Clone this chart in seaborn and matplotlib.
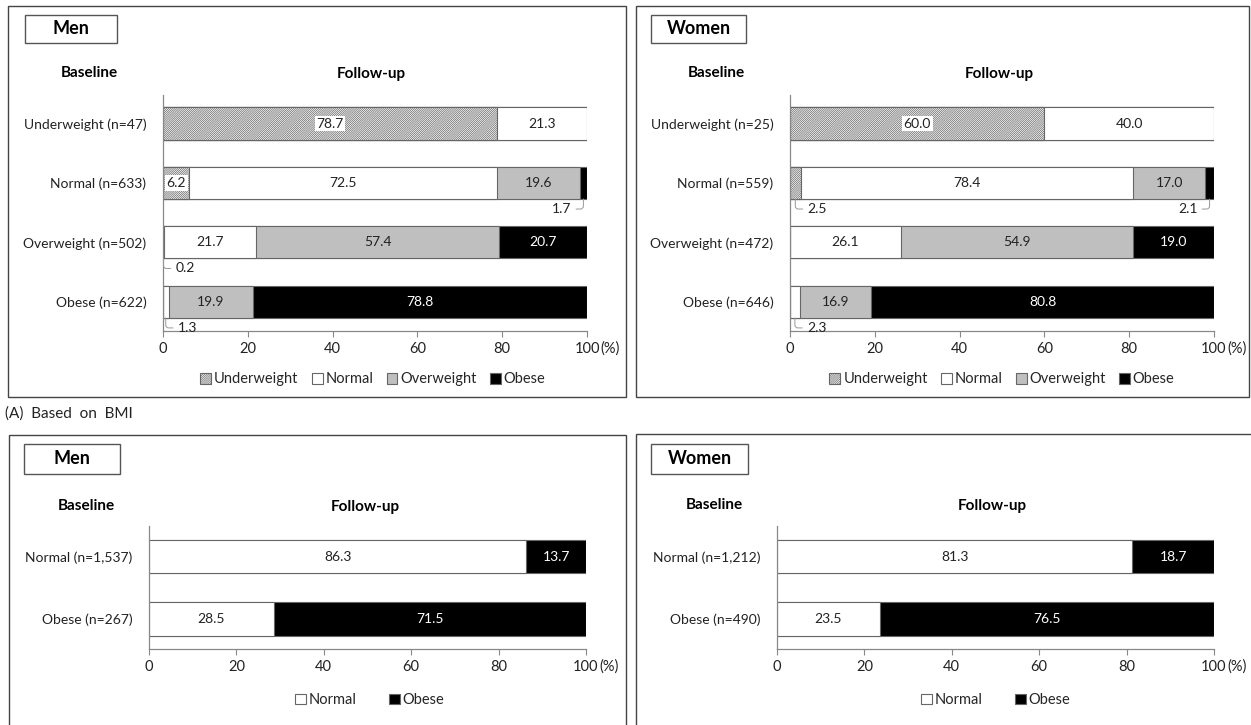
import matplotlib
matplotlib.use("Agg")
import matplotlib.pyplot as plt
from matplotlib.patches import Rectangle, Patch
import pandas as pd
import seaborn as sns

sns.set_theme(style="white")
plt.rcParams['font.family'] = ['Lato', 'DejaVu Sans']
plt.rcParams['hatch.linewidth'] = 0.5

W, H = 1251, 725

# ---- data ----
bmi_classes = ["Underweight", "Normal", "Overweight", "Obese"]
wc_classes = ["Normal", "Obese"]

men_bmi_rows = ["Underweight (n=47)", "Normal (n=633)", "Overweight (n=502)", "Obese (n=622)"]
men_bmi_underweight = [78.7, 6.2, 0.2, 0.0]
men_bmi_normal = [21.3, 72.5, 21.7, 1.3]
men_bmi_overweight = [0.0, 19.6, 57.4, 19.9]
men_bmi_obese = [0.0, 1.7, 20.7, 78.8]

women_bmi_rows = ["Underweight (n=25)", "Normal (n=559)", "Overweight (n=472)", "Obese (n=646)"]
women_bmi_underweight = [60.0, 2.5, 0.0, 0.0]
women_bmi_normal = [40.0, 78.4, 26.1, 2.3]
women_bmi_overweight = [0.0, 17.0, 54.9, 16.9]
women_bmi_obese = [0.0, 2.1, 19.0, 80.8]

men_wc_rows = ["Normal (n=1,537)", "Obese (n=267)"]
men_wc_normal = [86.3, 28.5]
men_wc_obese = [13.7, 71.5]

women_wc_rows = ["Normal (n=1,212)", "Obese (n=490)"]
women_wc_normal = [81.3, 23.5]
women_wc_obese = [18.7, 76.5]

x_ticks = [0, 20, 40, 60, 80, 100]

# ---- style ----
FILL = {"Underweight": "white", "Normal": "white", "Overweight": "#bfbfbf", "Obese": "black"}
EDGE = "#666666"
HATCH = "/" * 16
TXT = "#222222"

fig = plt.figure(figsize=(W / 100, H / 100), dpi=100)


def fx(x):
    return x / W


def fy(y):
    return 1 - y / H


def frame(x0, y0, x1, y1, lw=1.0, color="#444444"):
    fig.patches.append(Rectangle((fx(x0), fy(y1)), fx(x1) - fx(x0), fy(y0) - fy(y1),
                                 transform=fig.transFigure, fill=False,
                                 edgecolor=color, linewidth=lw))


def draw_panel(box, rows, series, classes, ylim, bw, legend_y, legend_x):
    x0, y0, x1, y1 = box
    ax = fig.add_axes([fx(x0), fy(y1), fx(x1) - fx(x0), fy(y0) - fy(y1)])
    df = pd.DataFrame(dict(zip(classes, series)), index=rows)
    cum = df.cumsum(axis=1)
    # stacked bars: draw cumulative totals from the right-most class back to the first
    for cls in reversed(classes):
        n_before = len(ax.patches)
        sns.barplot(x=cum[cls].values, y=rows, order=rows, orient="h",
                    color=FILL[cls], edgecolor=EDGE, linewidth=0.8,
                    width=bw, saturation=1, errorbar=None, ax=ax)
        if cls == "Underweight":
            for p in ax.patches[n_before:]:
                p.set_hatch(HATCH)

    for i, r in enumerate(rows):
        left = 0.0
        for cls in classes:
            v = df.loc[r, cls]
            c = left + v / 2
            if v >= 5:
                col = "white" if cls == "Obese" else TXT
                bbox = dict(facecolor="white", edgecolor="none", pad=1.2) if cls == "Underweight" else None
                ax.text(c, i, f"{v:.1f}", ha="center", va="center", fontsize=10,
                        color=col, bbox=bbox)
            elif v > 0:
                if c < 50:
                    off, ha, rel = (12, -10), "left", (0, 0.5)
                else:
                    off, ha, rel = (-12, -10), "right", (1, 0.5)
                ax.annotate(f"{v:.1f}", xy=(c, i + bw / 2), xytext=off,
                            textcoords="offset pixels", ha=ha, va="center",
                            fontsize=10, color=TXT,
                            arrowprops=dict(arrowstyle="-", color="#999999", lw=0.7,
                                            shrinkA=1, shrinkB=0, relpos=rel,
                                            connectionstyle="angle,angleA=0,angleB=90,rad=3"))
            left += v

    ax.set_xlim(0, 100)
    ax.set_ylim(*ylim)
    ax.set_xticks(x_ticks)
    ax.set_xticklabels([str(t) for t in x_ticks], fontsize=10.5, color=TXT)
    ax.tick_params(axis="x", bottom=True, length=4, width=0.8, color="#888888", pad=4)
    ax.tick_params(axis="y", left=False, labelsize=10, labelcolor=TXT, pad=6)
    ax.set_xlabel("")
    ax.set_ylabel("")
    for s in ["top", "right"]:
        ax.spines[s].set_visible(False)
    for s in ["left", "bottom"]:
        ax.spines[s].set_color("#888888")
        ax.spines[s].set_linewidth(0.9)
    ax.annotate("(%)", xy=(100, 0), xycoords=("data", "axes fraction"),
                xytext=(13, -18), textcoords="offset pixels", ha="left", va="center",
                fontsize=10.5, color=TXT)

    handles = [Patch(facecolor=FILL[c], edgecolor=EDGE, linewidth=0.8,
                     hatch=HATCH if c == "Underweight" else None) for c in classes]
    ax.legend(handles, classes, loc="center", bbox_to_anchor=(legend_x, legend_y),
              ncol=len(classes), frameon=False, fontsize=10.5, handlelength=0.75,
              handleheight=0.75, handletextpad=0.2,
              columnspacing=0.9 if len(classes) == 4 else 2.2)
    return ax


# outer frames
frame(8, 6, 626, 397)
frame(636, 6, 1249, 397)
frame(9, 435, 626, 740)
frame(636, 434, 1260, 740)

# sex boxes
for (bx0, by0, bx1, by1, lab) in [(25, 15, 117, 43, "Men"), (651, 15, 746, 43, "Women"),
                                   (24, 444, 120, 474, "Men"), (651, 444, 748, 474, "Women")]:
    frame(bx0, by0, bx1, by1, lw=1.0, color="#555555")
    fig.text(fx((bx0 + bx1) / 2), fy((by0 + by1) / 2), lab, ha="center", va="center",
             fontsize=13, fontweight="bold", color="black")

for (x, y, lab) in [(89, 73, "Baseline"), (371, 74, "Follow-up"),
                    (716, 73, "Baseline"), (999, 74, "Follow-up"),
                    (86, 506, "Baseline"), (365, 507, "Follow-up"),
                    (714, 505, "Baseline"), (992, 506, "Follow-up")]:
    fig.text(fx(x), fy(y), lab, ha="center", va="center", fontsize=11,
             fontweight="bold", color="black")

fig.text(fx(5), fy(414), "(A)  Based  on  BMI", ha="left", va="center", fontsize=11, color=TXT)

draw_panel((163, 95, 587, 331), men_bmi_rows,
           [men_bmi_underweight, men_bmi_normal, men_bmi_overweight, men_bmi_obese],
           bmi_classes, (3.49, -0.48), 0.54, -0.205, 0.495)
draw_panel((790, 95, 1214, 331), women_bmi_rows,
           [women_bmi_underweight, women_bmi_normal, women_bmi_overweight, women_bmi_obese],
           bmi_classes, (3.49, -0.48), 0.54, -0.205, 0.5)
draw_panel((149, 526, 586, 649), men_wc_rows, [men_wc_normal, men_wc_obese],
           wc_classes, (1.48, -0.49), 0.53, -0.415, 0.505)
draw_panel((777, 526, 1214, 649), women_wc_rows, [women_wc_normal, women_wc_obese],
           wc_classes, (1.48, -0.49), 0.53, -0.415, 0.5)

fig.savefig("out.png", dpi=100)
